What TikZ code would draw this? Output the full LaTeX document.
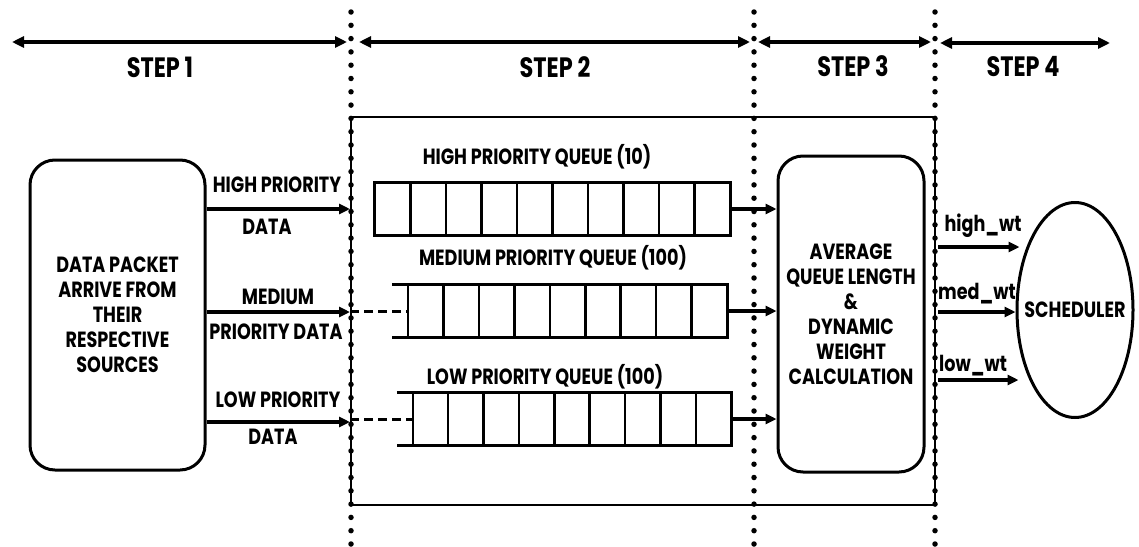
\documentclass[tikz,border=0pt]{standalone}
\usepackage{fontspec}
\setmainfont{Poppins}[FakeStretch=0.8]
\usetikzlibrary{arrows.meta,shapes.geometric,calc}

\begin{document}
\begin{tikzpicture}[x=1pt,y=-1pt,
  lbl/.style={font=\bfseries\fontsize{22}{25}\selectfont,align=center,inner sep=0pt},
  steplbl/.style={font=\bfseries\fontsize{28}{30}\selectfont,inner sep=0pt},
  stepline/.style={line width=3.5pt,{Triangle[length=12pt,width=11pt]}-{Triangle[length=12pt,width=11pt]}},
  flow/.style={line width=3.3pt,-{Triangle[length=11pt,width=10pt]}},
  divider/.style={line width=5.5pt,line cap=round,dash pattern=on 0pt off 13.3pt},
  roundbox/.style={draw,line width=3pt,rounded corners=25pt,inner sep=0pt,align=center,
    font=\bfseries\fontsize{22}{25}\selectfont},
  qbox/.style={inner sep=0pt,minimum height=52pt}]
\useasboundingbox (0,0) rectangle (1139,546);

% step dividers and step arrows
\foreach \x/\n in {351/1,754/2,935/3} {
  \coordinate (top\n) at (\x,12);
  \coordinate (bot\n) at (\x,546);
  \draw[divider] (top\n) -- (bot\n);
}
\draw[line width=2pt] (351,117) rectangle (935,505);
\coordinate (a0) at (12,42);
\coordinate (a1) at (347,42);
\coordinate (a2) at (359,42);
\coordinate (a3) at (750,42);
\coordinate (a4) at (758,42);
\coordinate (a5) at (931,42);
\coordinate (a6) at (940,43);
\coordinate (a7) at (1110,43);
\draw[stepline] (a0) -- (a1);
\draw[stepline] (a2) -- (a3);
\draw[stepline] (a4) -- (a5);
\draw[stepline] (a6) -- (a7);
\node[steplbl] (st1) at (160,67) {STEP 1};
\node[steplbl] (st2) at (555,67) {STEP 2};
\node[steplbl] (st3) at (853,66) {STEP 3};
\node[steplbl] (st4) at (1023,67) {STEP 4};

% step 1
\node[roundbox,minimum width=175pt,minimum height=310pt] (src) at (117.5,315)
  {DATA PACKET\\ARRIVE FROM\\THEIR\\RESPECTIVE\\SOURCES};
\coordinate (in1) at (350,209);
\coordinate (in2) at (350,312);
\coordinate (in3) at (350,422);
\draw[flow] (src.east |- in1) -- (in1);
\draw[flow] (src.east |- in2) -- (in2);
\draw[flow] (src.east |- in3) -- (in3);
\node[lbl] (hin1) at (277,185) {HIGH PRIORITY};
\node[lbl] (hin2) at (267,227) {DATA};
\node[lbl] (min1) at (278,297) {MEDIUM};
\node[lbl] (min2) at (276,332) {PRIORITY DATA};
\node[lbl] (lin1) at (278,400) {LOW PRIORITY};
\node[lbl] (lin2) at (273,437) {DATA};

% step 2: queues
\node[qbox,minimum width=355pt] (hq) at (552.5,209) {};
\node[qbox,minimum width=319pt] (mq) at (567.5,311) {};
\node[qbox,minimum width=318pt] (lq) at (572,419) {};
\node[lbl] (hql) at (537,157) {HIGH PRIORITY QUEUE (10)};
\node[lbl] (mql) at (553,258) {MEDIUM PRIORITY QUEUE (100)};
\node[lbl] (lql) at (545,377) {LOW PRIORITY QUEUE (100)};

\draw[line width=3.3pt] (hq.south west) rectangle (hq.north east);
\foreach \i in {1,...,9}
  \draw[line width=2.5pt] ($(hq.north west)!\i/10!(hq.north east)$) -- ($(hq.south west)!\i/10!(hq.south east)$);
\foreach \q in {mq,lq} {
  \draw[line width=3.3pt] ($(\q.north west)+(-16,0)$) -- (\q.north east) -- (\q.south east) -- ($(\q.south west)+(-16,0)$);
  \draw[line width=2.5pt] (\q.north west) -- (\q.south west);
  \foreach \i in {1,...,8}
    \draw[line width=2.5pt] ($(\q.north west)!\i/9!(\q.north east)$) -- ($(\q.south west)!\i/9!(\q.south east)$);
}
\draw[line width=3pt,dash pattern=on 9pt off 5pt] (in2 |- mq.west) -- (mq.west);
\draw[line width=3pt,dash pattern=on 9pt off 5pt] (in3 |- lq.west) -- (lq.west);

% step 3
\node[roundbox,minimum width=146pt,minimum height=316pt] (calc) at (851,314)
  {AVERAGE\\QUEUE LENGTH\\\&\\DYNAMIC\\WEIGHT\\CALCULATION};
\draw[flow] (hq.east) -- (calc.west |- hq.east);
\draw[flow] (mq.east) -- (calc.west |- mq.east);
\draw[flow] (lq.east) -- (calc.west |- lq.east);

% step 4
\node[ellipse,draw,line width=3pt,minimum width=116pt,minimum height=215pt,inner sep=0pt] (sched) at (1075,310) {};
\node[lbl] (schedl) at (sched.center) {SCHEDULER};
\coordinate (w1) at (938,247);
\coordinate (w2) at (938,312);
\coordinate (w3) at (938,380);
\draw[flow] (w1) -- ($(w1 -| sched.west)+(4,0)$);
\draw[flow] (w2) -- (w2 -| sched.west);
\draw[flow] (w3) -- ($(w3 -| sched.west)+(3,0)$);
\node[lbl] (hw) at (983,226) {high\_wt};
\node[lbl] (mw) at (977,294) {med\_wt};
\node[lbl] (lw) at (973,366) {low\_wt};
\end{tikzpicture}
\end{document}
